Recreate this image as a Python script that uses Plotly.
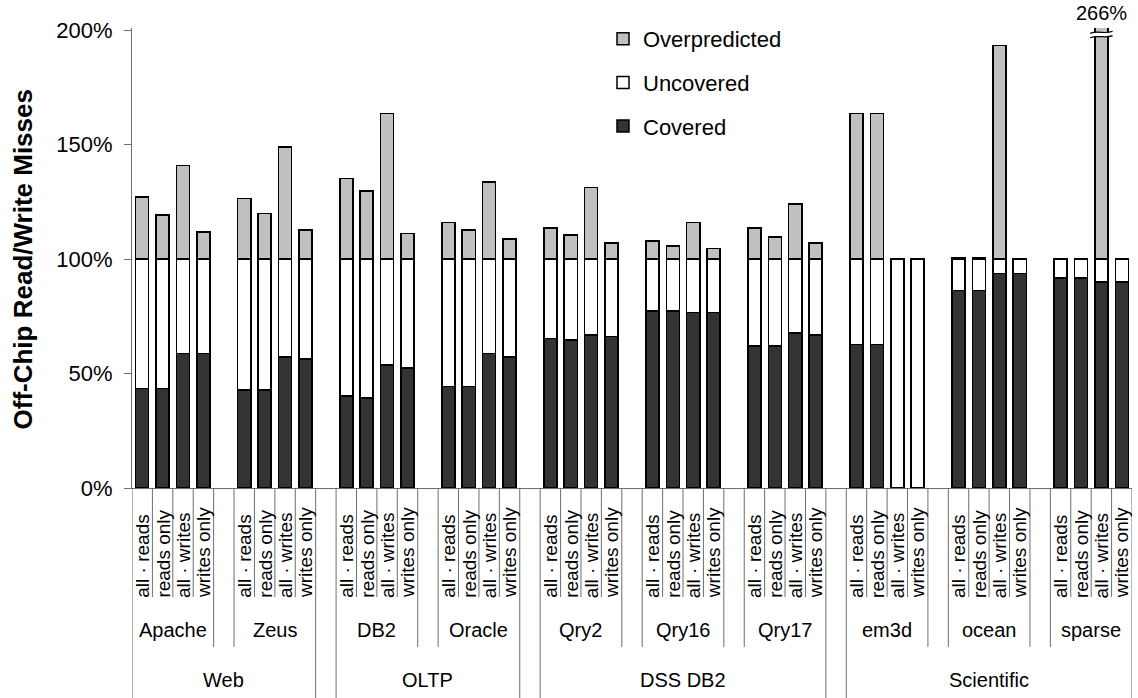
import plotly.graph_objects as go

# ---------------- data ----------------
benchmarks = ["Apache", "Zeus", "DB2", "Oracle", "Qry2", "Qry16", "Qry17", "em3d", "ocean", "sparse"]
group_names = ["Web", "OLTP", "DSS DB2", "Scientific"]
group_sizes = [2, 2, 3, 3]
variants = ["all · reads", "reads only", "all · writes", "writes only"]

covered = [
    43.5, 43.5, 58.8, 58.8,   # Apache
    42.8, 42.8, 57.3, 56.3,   # Zeus
    40.2, 39.4, 53.7, 52.5,   # DB2
    44.4, 44.4, 58.8, 57.3,   # Oracle
    65.4, 64.6, 66.8, 66.1,   # Qry2
    77.4, 77.4, 76.6, 76.6,   # Qry16
    62.0, 62.0, 67.7, 66.8,   # Qry17
    62.7, 62.7, 0.0, 0.0,     # em3d
    86.2, 86.2, 93.7, 93.7,   # ocean
    91.8, 91.8, 90.1, 90.1,   # sparse
]
uncovered = [
    56.5, 56.5, 41.2, 41.2,
    57.2, 57.2, 42.7, 43.7,
    59.8, 60.6, 46.3, 47.5,
    55.6, 55.6, 41.2, 42.7,
    34.6, 35.4, 33.2, 33.9,
    22.6, 22.6, 23.4, 23.4,
    38.0, 38.0, 32.3, 33.2,
    37.3, 37.3, 100.0, 100.0,
    13.8, 13.8, 6.3, 6.3,
    8.2, 8.2, 9.9, 9.9,
]
overpredicted = [
    27.2, 19.2, 41.0, 11.9,
    26.5, 20.0, 49.0, 12.7,
    35.2, 29.7, 63.6, 11.2,
    16.0, 12.8, 33.8, 8.7,
    13.7, 10.5, 31.3, 7.1,
    7.9, 5.7, 16.0, 4.7,
    13.7, 9.7, 24.1, 7.1,
    63.6, 63.6, 0.0, 0.0,
    0.8, 0.8, 93.4, 0.0,
    0.0, 0.0, 166.0, 0.0,
]
y_ticks = [0, 50, 100, 150, 200]

# ---------------- layout constants ----------------
W, H = 1138, 698
ML, MR, MT, MB = 132, 6, 28, 210
PLOT_H = H - MT - MB
Y_MAX = 201            # axis top (break shown above 200%)
Y_DRAW_CAP = 206       # bars taller than this are clipped at the axis top
SLOTS_PER_BENCH = 5    # 4 bars + 1 blank slot
FONT = "Liberation Sans, Arial, sans-serif"
LINE_COL = "#6e6e6e"


def px_to_paper(ypx):
    return (H - MB - ypx) / PLOT_H


# x slot positions
xs = []
for b in range(len(benchmarks)):
    for v in range(len(variants)):
        xs.append(b * SLOTS_PER_BENCH + v)

n_slots = (len(benchmarks) - 1) * SLOTS_PER_BENCH + len(variants)

# displayed overpredicted (capped for the broken bar)
over_disp = []
for c, u, o in zip(covered, uncovered, overpredicted):
    base = c + u
    top = min(base + o, Y_DRAW_CAP)
    over_disp.append(top - base)

fig = go.Figure()
series = [
    ("Covered", covered, "#333333", 3),
    ("Uncovered", uncovered, "#ffffff", 2),
    ("Overpredicted", over_disp, "#c0c0c0", 1),
]
for name, vals, col, rank in series:
    fig.add_trace(go.Bar(
        x=xs, y=vals, name=name, legendgroup=name, legendrank=rank,
        width=0.64,
        marker=dict(color=col, line=dict(color="#000000", width=1.5)),
        hoverinfo="skip",
    ))

shapes = []
annotations = []

y_axis_px = H - MB
y_var_bottom = 597
y_bench_bottom = 647
y_group_bottom = H

# group boundaries
group_bounds = set()
start = 0
group_spans = []
for gname, gsize in zip(group_names, group_sizes):
    left = start * SLOTS_PER_BENCH - 0.5
    right = (start + gsize - 1) * SLOTS_PER_BENCH + len(variants) - 0.5
    group_spans.append((gname, left, right))
    group_bounds.add(left)
    group_bounds.add(right)
    start += gsize


def vline(x, ypx_bottom):
    shapes.append(dict(type="line", xref="x", yref="paper",
                       x0=x, x1=x, y0=px_to_paper(y_axis_px), y1=px_to_paper(ypx_bottom),
                       line=dict(color=LINE_COL, width=1)))


for b, bname in enumerate(benchmarks):
    s0 = b * SLOTS_PER_BENCH
    # separators between variants
    for v in range(1, len(variants)):
        vline(s0 + v - 0.5, y_var_bottom)
    for edge in (s0 - 0.5, s0 + len(variants) - 0.5):
        vline(edge, y_group_bottom if edge in group_bounds else y_bench_bottom)
    # benchmark label
    annotations.append(dict(x=s0 + (len(variants) - 1) / 2, y=px_to_paper(630),
                            xref="x", yref="paper", text=bname, showarrow=False,
                            xanchor="center", yanchor="middle",
                            font=dict(size=20, color="black", family=FONT)))
    # variant labels
    for v, vname in enumerate(variants):
        annotations.append(dict(x=s0 + v, y=px_to_paper(y_var_bottom + 2),
                                xref="x", yref="paper", text=vname, showarrow=False,
                                textangle=-90, xanchor="center", yanchor="bottom",
                                borderpad=0,
                                font=dict(size=19, color="black", family=FONT)))

for gname, left, right in group_spans:
    annotations.append(dict(x=(left + right) / 2, y=px_to_paper(680),
                            xref="x", yref="paper", text=gname, showarrow=False,
                            xanchor="center", yanchor="middle",
                            font=dict(size=20, color="black", family=FONT)))

# axis break marker on bars exceeding the axis
for x, c, u, o in zip(xs, covered, uncovered, overpredicted):
    total = c + u + o
    if total > Y_MAX:
        annotations.append(dict(x=x, y=Y_MAX, xref="x", yref="y",
                                text=f"{total:.0f}%", showarrow=False,
                                xanchor="center", yanchor="bottom", yshift=2,
                                font=dict(size=20, color="black", family=FONT)))
        w, a = 0.55, 0.45
        yu, yl = 199.1, 197.2

        def curve(y):
            return (f"{x - w},{y - a}", f"{x - w / 3},{y + 2 * a}",
                    f"{x + w / 3},{y - 2 * a}", f"{x + w},{y + a}")
        u0, u1, u2, u3 = curve(yu)
        l0, l1, l2, l3 = curve(yl)
        shapes.append(dict(type="path", xref="x", yref="y",
                           path=f"M{u0} C{u1} {u2} {u3} L{l3} C{l2} {l1} {l0} Z",
                           fillcolor="white", line=dict(width=0)))
        for p0, p1, p2, p3 in ((u0, u1, u2, u3), (l0, l1, l2, l3)):
            shapes.append(dict(type="path", xref="x", yref="y",
                               path=f"M{p0} C{p1} {p2} {p3}",
                               line=dict(color="black", width=1.2)))

# y-axis title
annotations.append(dict(x=(22.5 - ML) / (W - ML - MR), y=px_to_paper(260),
                        xref="paper", yref="paper", text="<b>Off-Chip Read/Write Misses</b>",
                        showarrow=False, textangle=-90, xanchor="center", yanchor="middle",
                        font=dict(size=26, color="black", family=FONT)))

fig.update_layout(
    width=W, height=H,
    margin=dict(l=ML, r=MR, t=MT, b=MB, pad=0),
    barmode="stack",
    plot_bgcolor="white", paper_bgcolor="white",
    font=dict(family=FONT, color="black"),
    showlegend=True,
    legend=dict(
        x=(603 - ML) / (W - ML - MR), xanchor="left",
        y=px_to_paper(18), yanchor="top",
        traceorder="grouped", tracegroupgap=12,
        font=dict(size=22, color="black", family=FONT),
        bgcolor="rgba(0,0,0,0)", borderwidth=0,
    ),
    xaxis=dict(
        range=[-0.5, n_slots - 0.5], showgrid=False, zeroline=False,
        showticklabels=False, ticks="", showline=True, linecolor=LINE_COL, linewidth=1,
        fixedrange=True,
    ),
    yaxis=dict(
        range=[0, Y_MAX], tickvals=y_ticks, ticktext=[f"{t}%" for t in y_ticks],
        showgrid=False, zeroline=False, showline=True, linecolor=LINE_COL, linewidth=1,
        ticks="outside", ticklen=7, tickcolor=LINE_COL, tickwidth=1,
        ticklabelstandoff=7,
        tickfont=dict(size=22, color="black", family=FONT),
        fixedrange=True,
    ),
    shapes=shapes,
    annotations=annotations,
)

fig.write_html("out.html")
